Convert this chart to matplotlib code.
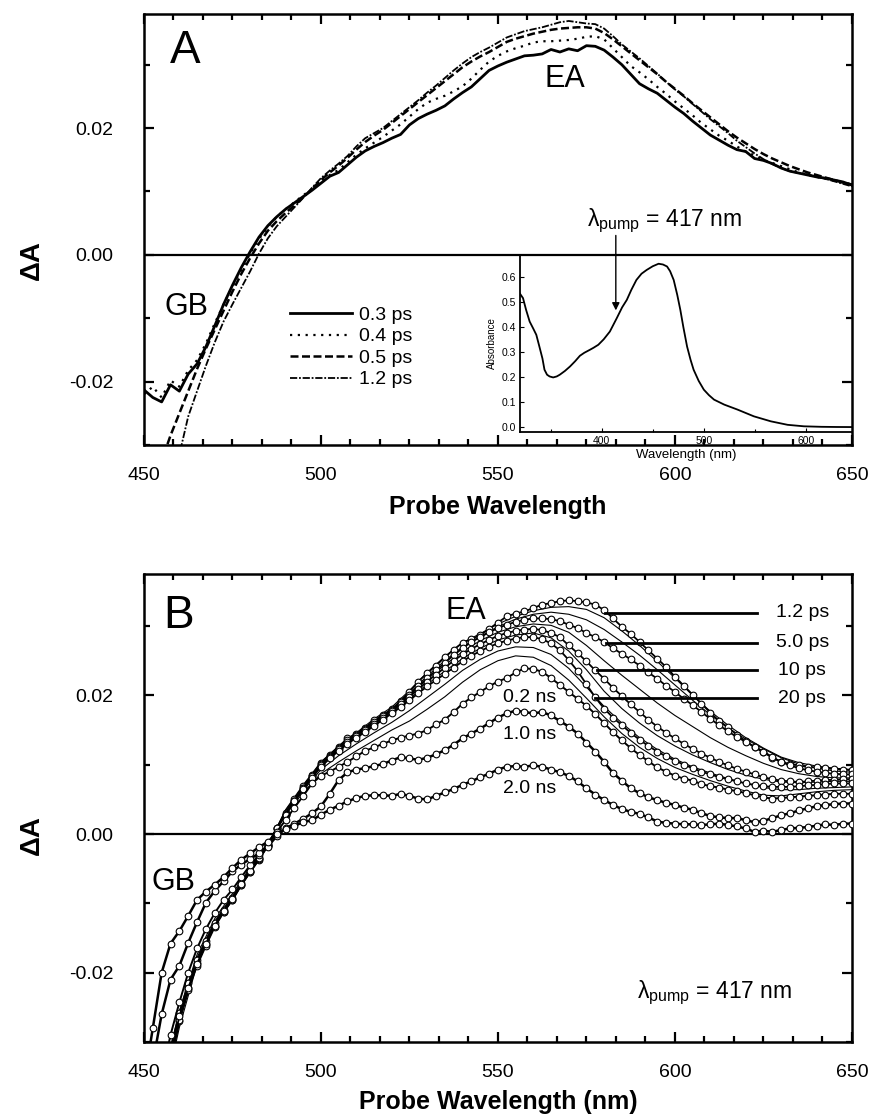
import numpy as np
import matplotlib
matplotlib.use('Agg')
import matplotlib.pyplot as plt
from matplotlib.ticker import MultipleLocator, AutoMinorLocator, FormatStrFormatter

plt.rcParams['font.family'] = 'Liberation Sans'
plt.rcParams['axes.unicode_minus'] = False
plt.rcParams['mathtext.default'] = 'regular'

# ---------------- panel A : early-time spectra ----------------
wl_a = np.arange(450, 650.1, 2.5)

a_03ps = [-0.0213, -0.0225, -0.0232, -0.0205, -0.0215, -0.0188, -0.0172, -0.0145, -0.0112, -0.0078,
          -0.0048, -0.0020, 0.0005, 0.0028, 0.0046, 0.0060, 0.0072, 0.0082, 0.0092, 0.0102,
          0.0113, 0.0124, 0.0130, 0.0142, 0.0154, 0.0164, 0.0171, 0.0177, 0.0184, 0.0190,
          0.0205, 0.0215, 0.0222, 0.0228, 0.0235, 0.0246, 0.0256, 0.0265, 0.0278, 0.0291,
          0.0298, 0.0304, 0.0309, 0.0314, 0.0315, 0.0317, 0.0324, 0.0320, 0.0325, 0.0322,
          0.0330, 0.0329, 0.0323, 0.0312, 0.0300, 0.0285, 0.0270, 0.0262, 0.0255, 0.0244,
          0.0233, 0.0223, 0.0211, 0.0200, 0.0189, 0.0181, 0.0173, 0.0166, 0.0163, 0.0152,
          0.0149, 0.0144, 0.0137, 0.0132, 0.0129, 0.0126, 0.0123, 0.0121, 0.0118, 0.0115,
          0.0110]
a_04ps = [-0.0220, -0.0208, -0.0225, -0.0198, -0.0208, -0.0182, -0.0166, -0.0140, -0.0108, -0.0078,
          -0.0050, -0.0023, 0.0002, 0.0025, 0.0044, 0.0060, 0.0072, 0.0083, 0.0094, 0.0104,
          0.0114, 0.0126, 0.0134, 0.0146, 0.0158, 0.0168, 0.0177, 0.0186, 0.0196, 0.0206,
          0.0218, 0.0230, 0.0240, 0.0246, 0.0251, 0.0258, 0.0266, 0.0278, 0.0292, 0.0305,
          0.0314, 0.0321, 0.0326, 0.0330, 0.0335, 0.0337, 0.0337, 0.0338, 0.0339, 0.0341,
          0.0344, 0.0345, 0.0340, 0.0326, 0.0312, 0.0298, 0.0288, 0.0277, 0.0265, 0.0254,
          0.0242, 0.0231, 0.0220, 0.0208, 0.0198, 0.0188, 0.0180, 0.0171, 0.0163, 0.0157,
          0.0150, 0.0145, 0.0140, 0.0135, 0.0130, 0.0126, 0.0123, 0.0120, 0.0117, 0.0114,
          0.0111]
a_05ps = [-0.042, -0.037, -0.0325, -0.0285, -0.0250, -0.0215, -0.0180, -0.0148, -0.0118, -0.0088,
          -0.0058, -0.0030, -0.0005, 0.0018, 0.0038, 0.0053, 0.0066, 0.0078, 0.0091, 0.0104,
          0.0118, 0.0130, 0.0141, 0.0153, 0.0166, 0.0178, 0.0188, 0.0197, 0.0208, 0.0219,
          0.0230, 0.0241, 0.0252, 0.0263, 0.0274, 0.0285, 0.0296, 0.0305, 0.0313, 0.0320,
          0.0328, 0.0336, 0.0341, 0.0345, 0.0349, 0.0352, 0.0355, 0.0357, 0.0358, 0.0359,
          0.0359, 0.0357, 0.0350, 0.0340, 0.0329, 0.0318, 0.0307, 0.0296, 0.0285, 0.0273,
          0.0262, 0.0251, 0.0239, 0.0228, 0.0217, 0.0206, 0.0195, 0.0185, 0.0176, 0.0167,
          0.0159, 0.0152, 0.0146, 0.0140, 0.0135, 0.0130, 0.0126, 0.0122, 0.0118, 0.0114,
          0.0111]
a_12ps = [-0.052, -0.047, -0.042, -0.037, -0.0315, -0.0255, -0.0215, -0.0175, -0.0138, -0.0105,
          -0.0078, -0.0052, -0.0026, 0.0002, 0.0026, 0.0045, 0.0060, 0.0075, 0.0090, 0.0106,
          0.0121, 0.0133, 0.0144, 0.0156, 0.0171, 0.0184, 0.0192, 0.0200, 0.0211, 0.0222,
          0.0233, 0.0244, 0.0256, 0.0267, 0.0279, 0.0291, 0.0302, 0.0312, 0.0320, 0.0327,
          0.0335, 0.0343, 0.0348, 0.0353, 0.0356, 0.0359, 0.0363, 0.0367, 0.0369, 0.0367,
          0.0365, 0.0364, 0.0357, 0.0345, 0.0332, 0.0321, 0.0310, 0.0298, 0.0286, 0.0273,
          0.0261, 0.0250, 0.0238, 0.0226, 0.0214, 0.0203, 0.0192, 0.0180, 0.0170, 0.0160,
          0.0151, 0.0143, 0.0137, 0.0132, 0.0129, 0.0127, 0.0123, 0.0120, 0.0116, 0.0112,
          0.0108]
legend_a = ['0.3 ps', '0.4 ps', '0.5 ps', '1.2 ps']

# inset: ground-state absorption
inset_wl = [320, 323, 326, 329.5, 333, 336, 339, 342, 344, 346.5,
            349, 352.5, 356, 359, 364, 369, 374, 378.7, 383, 388.5,
            392, 396.7, 402, 408, 414.8, 420, 424.6, 429, 434, 439,
            444, 450, 455.7, 460, 464, 467, 470.5, 474, 477, 480,
            483.6, 487, 490, 495, 500, 505, 510, 520, 533, 549,
            565.6, 582, 598, 615, 630, 645]
inset_abs = [0.535, 0.517, 0.47, 0.423, 0.395, 0.37, 0.323, 0.275, 0.23, 0.21,
             0.203, 0.199, 0.203, 0.21, 0.225, 0.243, 0.264, 0.286, 0.298, 0.31,
             0.318, 0.33, 0.352, 0.383, 0.437, 0.48, 0.51, 0.55, 0.59, 0.615,
             0.63, 0.645, 0.655, 0.652, 0.644, 0.625, 0.59, 0.53, 0.47, 0.40,
             0.323, 0.27, 0.23, 0.185, 0.15, 0.128, 0.11, 0.09, 0.07, 0.043,
             0.023, 0.009, 0.003, 0.001, 0.0003, 0.0]

# ---------------- panel B : later-time spectra ----------------
wl_b = np.arange(450, 650.1, 2.5)   # curves with open circles
wl_t = np.arange(450, 650.1, 5.0)   # thin intermediate curves

b_12ps = [-0.050, -0.045, -0.039, -0.033, -0.027, -0.0222, -0.0186, -0.0158, -0.0132, -0.0112,
          -0.0095, -0.0073, -0.0055, -0.0037, -0.0017, 0.0008, 0.0030, 0.0050, 0.0069, 0.0085,
          0.0103, 0.0114, 0.0126, 0.0138, 0.0145, 0.0153, 0.0164, 0.0172, 0.0180, 0.0192,
          0.0205, 0.0220, 0.0232, 0.0243, 0.0255, 0.0266, 0.0276, 0.0281, 0.0287, 0.0296,
          0.0305, 0.0314, 0.0318, 0.0321, 0.0326, 0.0331, 0.0333, 0.0336, 0.0337, 0.0336,
          0.0334, 0.0331, 0.0323, 0.0311, 0.0299, 0.0289, 0.0277, 0.0265, 0.0253, 0.0241,
          0.0227, 0.0214, 0.0201, 0.0188, 0.0175, 0.0163, 0.0154, 0.0143, 0.0134, 0.0125,
          0.0118, 0.0110, 0.0104, 0.0101, 0.0099, 0.0097, 0.0096, 0.0095, 0.0094, 0.0093,
          0.0092]
b_5ps = [-0.047, -0.042, -0.037, -0.031, -0.0258, -0.0215, -0.0182, -0.0154, -0.0129, -0.0109,
         -0.0092, -0.0071, -0.0053, -0.0035, -0.0016, 0.0008, 0.0029, 0.0048, 0.0067, 0.0084,
         0.0101, 0.0112, 0.0124, 0.0135, 0.0143, 0.0152, 0.0162, 0.0170, 0.0179, 0.0190,
         0.0201, 0.0213, 0.0225, 0.0236, 0.0247, 0.0258, 0.0268, 0.0277, 0.0284, 0.0291,
         0.0297, 0.0302, 0.0306, 0.0309, 0.0311, 0.0311, 0.0310, 0.0307, 0.0302, 0.0297,
         0.0290, 0.0284, 0.0277, 0.0268, 0.0260, 0.0252, 0.0243, 0.0233, 0.0224, 0.0214,
         0.0205, 0.0195, 0.0186, 0.0176, 0.0166, 0.0157, 0.0148, 0.0140, 0.0133, 0.0126,
         0.0119, 0.0111, 0.0104, 0.0099, 0.0095, 0.0092, 0.0090, 0.0088, 0.0087, 0.0086,
         0.0086]
b_10ps = [-0.049, -0.044, -0.038, -0.0325, -0.0268, -0.0225, -0.0190, -0.0161, -0.0134, -0.0113,
          -0.0095, -0.0074, -0.0055, -0.0036, -0.0017, 0.0007, 0.0028, 0.0047, 0.0066, 0.0083,
          0.0099, 0.0111, 0.0122, 0.0133, 0.0142, 0.0150, 0.0159, 0.0168, 0.0177, 0.0187,
          0.0198, 0.0209, 0.0220, 0.0230, 0.0240, 0.0250, 0.0259, 0.0267, 0.0274, 0.0280,
          0.0286, 0.0290, 0.0293, 0.0295, 0.0296, 0.0294, 0.0290, 0.0284, 0.0272, 0.0261,
          0.0249, 0.0236, 0.0224, 0.0211, 0.0199, 0.0187, 0.0176, 0.0165, 0.0155, 0.0146,
          0.0138, 0.0130, 0.0123, 0.0116, 0.0110, 0.0104, 0.0099, 0.0094, 0.0090, 0.0086,
          0.0082, 0.0079, 0.0077, 0.0076, 0.0075, 0.0076, 0.0077, 0.0078, 0.0078, 0.0079,
          0.0079]
b_20ps = [-0.048, -0.043, -0.0375, -0.032, -0.0263, -0.0222, -0.0187, -0.0158, -0.0132, -0.0111,
          -0.0093, -0.0072, -0.0054, -0.0035, -0.0016, 0.0008, 0.0028, 0.0047, 0.0065, 0.0081,
          0.0097, 0.0109, 0.0120, 0.0130, 0.0139, 0.0147, 0.0156, 0.0165, 0.0174, 0.0183,
          0.0193, 0.0203, 0.0213, 0.0222, 0.0231, 0.0240, 0.0249, 0.0257, 0.0264, 0.0270,
          0.0275, 0.0279, 0.0282, 0.0284, 0.0284, 0.0281, 0.0275, 0.0265, 0.0251, 0.0235,
          0.0216, 0.0197, 0.0181, 0.0168, 0.0157, 0.0146, 0.0136, 0.0127, 0.0119, 0.0112,
          0.0106, 0.0100, 0.0095, 0.0090, 0.0086, 0.0082, 0.0079, 0.0076, 0.0073, 0.0071,
          0.0069, 0.0068, 0.0068, 0.0068, 0.0069, 0.0070, 0.0071, 0.0072, 0.0073, 0.0073,
          0.0073]
b_02ns = [-0.046, -0.041, -0.035, -0.029, -0.0243, -0.0200, -0.0165, -0.0137, -0.0114, -0.0095,
          -0.0080, -0.0062, -0.0045, -0.0030, -0.0015, 0.0003, 0.0020, 0.0038, 0.0055, 0.0073,
          0.0084, 0.0090, 0.0097, 0.0104, 0.0112, 0.0120, 0.0125, 0.0130, 0.0135, 0.0139,
          0.0142, 0.0145, 0.0150, 0.0158, 0.0165, 0.0176, 0.0188, 0.0197, 0.0205, 0.0213,
          0.0220, 0.0225, 0.0233, 0.0239, 0.0238, 0.0234, 0.0225, 0.0215, 0.0205, 0.0195,
          0.0185, 0.0173, 0.0160, 0.0147, 0.0135, 0.0124, 0.0114, 0.0105, 0.0096, 0.0090,
          0.0084, 0.0080, 0.0077, 0.0072, 0.0069, 0.0067, 0.0064, 0.0062, 0.0059, 0.0056,
          0.0053, 0.0051, 0.0052, 0.0053, 0.0054, 0.0055, 0.0056, 0.0057, 0.0058, 0.0058,
          0.0058]
b_1ns = [-0.040, -0.033, -0.026, -0.0210, -0.0190, -0.0157, -0.0127, -0.0099, -0.0082, -0.0068,
         -0.0054, -0.0044, -0.0036, -0.0028, -0.0018, -0.0003, 0.0008, 0.0015, 0.0022, 0.0030,
         0.0040, 0.0058, 0.0078, 0.0089, 0.0093, 0.0095, 0.0098, 0.0101, 0.0106, 0.0111,
         0.0109, 0.0107, 0.0110, 0.0115, 0.0121, 0.0129, 0.0138, 0.0145, 0.0152, 0.0160,
         0.0168, 0.0174, 0.0178, 0.0176, 0.0174, 0.0176, 0.0171, 0.0163, 0.0155, 0.0145,
         0.0132, 0.0119, 0.0104, 0.0088, 0.0077, 0.0066, 0.0059, 0.0053, 0.0049, 0.0045,
         0.0042, 0.0038, 0.0035, 0.0030, 0.0026, 0.0024, 0.0023, 0.0023, 0.0020, 0.0017,
         0.0019, 0.0023, 0.0027, 0.0030, 0.0034, 0.0037, 0.0040, 0.0042, 0.0043, 0.0044,
         0.0044]
b_2ns = [-0.036, -0.028, -0.0200, -0.0158, -0.0140, -0.0118, -0.0095, -0.0083, -0.0073, -0.0062,
         -0.0049, -0.0037, -0.0028, -0.0019, -0.0011, 0.0000, 0.0007, 0.0012, 0.0017, 0.0020,
         0.0028, 0.0035, 0.0041, 0.0047, 0.0052, 0.0055, 0.0056, 0.0056, 0.0055, 0.0058,
         0.0055, 0.0051, 0.0050, 0.0055, 0.0060, 0.0065, 0.0071, 0.0076, 0.0082, 0.0087,
         0.0093, 0.0097, 0.0098, 0.0097, 0.0099, 0.0097, 0.0093, 0.0089, 0.0084, 0.0076,
         0.0066, 0.0057, 0.0049, 0.0042, 0.0036, 0.0032, 0.0029, 0.0024, 0.0018, 0.0016,
         0.0015, 0.0014, 0.0014, 0.0013, 0.0014, 0.0015, 0.0013, 0.0011, 0.0008, 0.0003,
         0.0005, 0.0003, 0.0006, 0.0008, 0.0009, 0.0010, 0.0012, 0.0014, 0.0013, 0.0015,
         0.0015]

t_2ps = [-0.049, -0.039, -0.0272, -0.0185, -0.0131, -0.0094, -0.0054, -0.0017, 0.0035, 0.0071,
         0.0104, 0.0127, 0.0146, 0.0166, 0.0183, 0.0207, 0.0233, 0.0256, 0.0276, 0.0289,
         0.0303, 0.0314, 0.0322, 0.0327, 0.0328, 0.0324, 0.0312, 0.0293, 0.0272, 0.0249,
         0.0225, 0.0200, 0.0177, 0.0157, 0.0139, 0.0124, 0.0111, 0.0103, 0.0098, 0.0095,
         0.0093]
t_3ps = [-0.048, -0.038, -0.0268, -0.0182, -0.0130, -0.0093, -0.0053, -0.0016, 0.0034, 0.0069,
         0.0102, 0.0125, 0.0144, 0.0163, 0.0180, 0.0203, 0.0228, 0.0250, 0.0270, 0.0285,
         0.0299, 0.0310, 0.0317, 0.0320, 0.0317, 0.0309, 0.0295, 0.0277, 0.0258, 0.0237,
         0.0215, 0.0193, 0.0172, 0.0153, 0.0137, 0.0123, 0.0110, 0.0101, 0.0095, 0.0091,
         0.0089]
t_7ps = [-0.050, -0.0395, -0.0279, -0.0188, -0.0133, -0.0094, -0.0054, -0.0016, 0.0032, 0.0067,
         0.0100, 0.0123, 0.0143, 0.0160, 0.0178, 0.0200, 0.0223, 0.0244, 0.0263, 0.0279,
         0.0291, 0.0299, 0.0303, 0.0301, 0.0291, 0.0272, 0.0250, 0.0229, 0.0209, 0.0189,
         0.0171, 0.0155, 0.0139, 0.0125, 0.0113, 0.0102, 0.0093, 0.0087, 0.0083, 0.0081,
         0.0081]
t_15ps = [-0.048, -0.038, -0.0268, -0.0185, -0.0131, -0.0093, -0.0053, -0.0016, 0.0031, 0.0066,
          0.0098, 0.0121, 0.0140, 0.0157, 0.0175, 0.0195, 0.0216, 0.0235, 0.0253, 0.0268,
          0.0280, 0.0287, 0.0290, 0.0283, 0.0264, 0.0237, 0.0206, 0.0181, 0.0160, 0.0142,
          0.0127, 0.0114, 0.0103, 0.0093, 0.0085, 0.0079, 0.0075, 0.0074, 0.0075, 0.0076,
          0.0076]
t_50ps = [-0.047, -0.037, -0.0261, -0.0178, -0.0126, -0.0089, -0.0050, -0.0014, 0.0030, 0.0063,
          0.0093, 0.0113, 0.0130, 0.0146, 0.0161, 0.0178, 0.0197, 0.0216, 0.0236, 0.0252,
          0.0264, 0.0270, 0.0269, 0.0259, 0.0239, 0.0212, 0.0184, 0.0160, 0.0139, 0.0122,
          0.0108, 0.0097, 0.0088, 0.0080, 0.0073, 0.0067, 0.0064, 0.0064, 0.0066, 0.0067,
          0.0068]
t_100ps = [-0.046, -0.036, -0.0256, -0.0174, -0.0122, -0.0086, -0.0048, -0.0013, 0.0028, 0.0060,
           0.0087, 0.0104, 0.0120, 0.0135, 0.0150, 0.0163, 0.0180, 0.0198, 0.0219, 0.0237,
           0.0250, 0.0257, 0.0255, 0.0243, 0.0222, 0.0196, 0.0169, 0.0145, 0.0125, 0.0109,
           0.0096, 0.0086, 0.0077, 0.0069, 0.0062, 0.0056, 0.0055, 0.0058, 0.0061, 0.0063,
           0.0064]

ps_labels = ['1.2 ps', '5.0 ps', '10 ps', '20 ps']
ps_label_y = [0.0319, 0.0276, 0.0236, 0.0196]
ps_leader_x0 = [580.2, 580.5, 578.0, 577.4]
ns_labels = ['0.2 ns', '1.0 ns', '2.0 ns']
ns_label_y = [0.0197, 0.0144, 0.0065]


def style_axes(ax, ytop):
    ax.set_xlim(450, 650)
    ax.set_ylim(-0.030, ytop)
    ax.xaxis.set_major_locator(MultipleLocator(50))
    ax.xaxis.set_minor_locator(AutoMinorLocator(6))
    ax.yaxis.set_major_locator(MultipleLocator(0.02))
    ax.yaxis.set_minor_locator(AutoMinorLocator(2))
    ax.yaxis.set_major_formatter(FormatStrFormatter('%.2f'))
    ax.tick_params(which='both', direction='in', top=True, right=True, width=1.6)
    ax.tick_params(which='major', length=7.5, labelsize=14)
    ax.tick_params(which='minor', length=4.5)
    ax.tick_params(axis='x', pad=16)
    ax.tick_params(axis='y', pad=22)
    for sp in ax.spines.values():
        sp.set_linewidth(1.8)
    ax.axhline(0, color='black', lw=1.6, zorder=1)


fig = plt.figure(figsize=(8.81, 11.19), dpi=100)
axA = fig.add_axes([0.1634, 0.6023, 0.8036, 0.3852])
axB = fig.add_axes([0.1634, 0.0688, 0.8036, 0.4182])

# ---- panel A ----
style_axes(axA, 0.038)
lA1, = axA.plot(wl_a, a_03ps, color='black', lw=2.0, ls='-')
lA2, = axA.plot(wl_a, a_04ps, color='black', lw=1.6, ls=(0, (1, 2.5)))
lA3, = axA.plot(wl_a, a_05ps, color='black', lw=1.8, ls=(0, (3.2, 1.4)))
lA4, = axA.plot(wl_a, a_12ps, color='black', lw=1.3, ls=(0, (4, 1, 1, 1)))
axA.legend([lA1, lA2, lA3, lA4], legend_a, loc='upper left',
           bbox_to_anchor=(491.2, -0.0081), bbox_transform=axA.transData,
           frameon=False, fontsize=14, handlelength=3.2, handletextpad=0.35,
           labelspacing=0.2, borderpad=0, borderaxespad=0)

axA.text(461.6, 0.0321, 'A', fontsize=33, ha='center', va='center')
axA.text(568.9, 0.0277, 'EA', fontsize=22, ha='center', va='center')
axA.text(462.0, -0.0082, 'GB', fontsize=22, ha='center', va='center')
axA.text(575.1, 0.0046, r'$\lambda_{pump}$ = 417 nm', fontsize=16.5, ha='left', va='baseline')
axA.annotate('', xy=(583.3, -0.0092), xytext=(583.3, 0.0035),
             arrowprops=dict(arrowstyle='-|>', color='black', lw=1.0, mutation_scale=11))

axA.set_xlabel('Probe Wavelength', fontsize=18, fontweight='bold', labelpad=8)
axA.set_ylabel('ΔA', fontsize=20, fontweight='bold')
axA.yaxis.set_label_coords(-0.14, 0.43)

# inset
axIn = fig.add_axes([0.5902, 0.6139, 0.3768, 0.1582])
axIn.set_facecolor('none')
axIn.plot(inset_wl, inset_abs, color='black', lw=1.3)
axIn.set_xlim(320, 645)
axIn.set_ylim(-0.02, 0.69)
axIn.spines['top'].set_visible(False)
axIn.spines['right'].set_visible(False)
for s in ['left', 'bottom']:
    axIn.spines[s].set_linewidth(1.3)
axIn.xaxis.set_major_locator(MultipleLocator(100))
axIn.xaxis.set_minor_locator(MultipleLocator(50))
axIn.yaxis.set_major_locator(MultipleLocator(0.1))
axIn.yaxis.set_major_formatter(FormatStrFormatter('%.1f'))
axIn.tick_params(which='both', direction='in', width=0.8, labelsize=7.5, pad=3)
axIn.tick_params(which='major', length=3)
axIn.tick_params(which='minor', length=2)
axIn.set_xlabel('Wavelength (nm)', fontsize=9.5, labelpad=2)
axIn.set_ylabel('Absorbance', fontsize=7, labelpad=3)

# ---- panel B ----
style_axes(axB, 0.0375)
for t in [t_2ps, t_3ps, t_7ps, t_15ps, t_50ps, t_100ps]:
    axB.plot(wl_t, t, color='black', lw=0.8, zorder=2)
for c, lw in [(b_12ps, 1.3), (b_5ps, 1.3), (b_10ps, 1.3), (b_20ps, 1.3),
              (b_02ns, 1.4), (b_1ns, 1.8), (b_2ns, 1.8)]:
    axB.plot(wl_b, c, color='black', lw=lw, marker='o', ms=4.8, mfc='white',
             mec='black', mew=0.8, zorder=3)

for lab, y, x0 in zip(ps_labels, ps_label_y, ps_leader_x0):
    axB.plot([x0, 623.2], [y, y], color='black', lw=2.0, zorder=4)
    axB.text(636.0, y, lab, fontsize=14, ha='center', va='center')
for lab, y in zip(ns_labels, ns_label_y):
    axB.text(559.0, y, lab, fontsize=14, ha='center', va='center', zorder=5)

axB.text(459.9, 0.0315, 'B', fontsize=33, ha='center', va='center')
axB.text(541.0, 0.0322, 'EA', fontsize=22, ha='center', va='center')
axB.text(458.2, -0.0069, 'GB', fontsize=22, ha='center', va='center')
axB.text(589.3, -0.0236, r'$\lambda_{pump}$ = 417 nm', fontsize=16.5, ha='left', va='baseline')

axB.set_xlabel('Probe Wavelength (nm)', fontsize=18, fontweight='bold', labelpad=6)
axB.set_ylabel('ΔA', fontsize=20, fontweight='bold')
axB.yaxis.set_label_coords(-0.14, 0.442)

fig.savefig('out.png', dpi=100)
